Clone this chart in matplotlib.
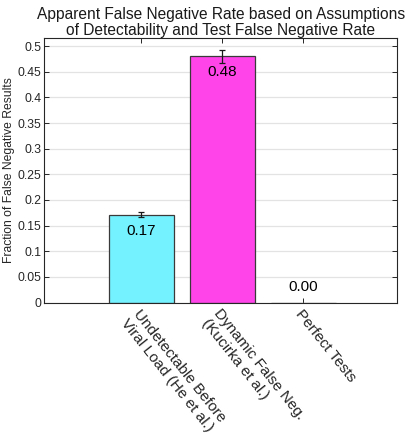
import matplotlib
matplotlib.use("Agg")
import matplotlib.pyplot as plt
import matplotlib.transforms as mtransforms
import numpy as np

# Data
categories = ["Undetectable Before\nViral Load (He et al.)",
              "Dynamic False Neg.\n(Kucirka et al.)",
              "Perfect Tests"]
values = [0.1715, 0.480, 0.0]
errors = [0.0055, 0.012, 0.0]
value_labels = ["0.17", "0.48", "0.00"]
bar_colors = ["#75F2FF", "#FF45EA", "#FFFFFF"]
yticks = [0, 0.05, 0.1, 0.15, 0.2, 0.25, 0.3, 0.35, 0.4, 0.45, 0.5]
ytick_labels = ["0", "0.05", "0.1", "0.15", "0.2", "0.25", "0.3", "0.35", "0.4", "0.45", "0.5"]

plt.rcParams['font.family'] = ['Liberation Sans', 'DejaVu Sans']

fig = plt.figure(figsize=(4.06, 4.40), dpi=100)
ax = fig.add_axes([44/406, 1 - 302.5/440, (397.5 - 44)/406, (302.5 - 38)/440])

x = np.arange(1, len(categories) + 1)
ax.set_axisbelow(True)
ax.yaxis.grid(True, color='#E3E3E3', linewidth=0.9)
ax.xaxis.grid(False)

ax.bar(x, values, width=0.8, color=bar_colors, edgecolor='#3A3A3A', linewidth=0.9, zorder=2)
ax.errorbar(x[:2], values[:2], yerr=errors[:2], fmt='none', ecolor='#1A1A1A',
            elinewidth=0.9, capsize=2.3, capthick=0.9, zorder=3)

for xi, v, lab in zip(x, values, value_labels):
    if v > 0.02:
        ax.annotate(lab, (xi, v), xytext=(0, -6.5), textcoords='offset points',
                    ha='center', va='top', fontsize=11, color='black', zorder=4)
    else:
        ax.annotate(lab, (xi, v), xytext=(0, 6), textcoords='offset points',
                    ha='center', va='bottom', fontsize=11, color='black', zorder=4)

ax.set_xlim(-0.2, 4.16)
ax.set_ylim(0, 0.516)
ax.set_yticks(yticks)
ax.set_yticklabels(ytick_labels, fontsize=8.7, color='#262626')
ax.set_xticks(x)
ax.set_xticklabels(categories, fontsize=11, color='#262626', rotation=-51.5,
                   ha='left', va='top', rotation_mode='anchor', linespacing=1.15)
label_shifts = [(-12, 0), (-1.5, 0), (-1.5, 0)]
for lbl, (dx, dy) in zip(ax.get_xticklabels(), label_shifts):
    off = mtransforms.ScaledTranslation(dx/100, (dy - 2)/100, fig.dpi_scale_trans)
    lbl.set_transform(lbl.get_transform() + off)

ax.tick_params(axis='both', direction='in', length=3.5, width=0.7, colors='#262626',
               top=True, right=True)
ax.tick_params(axis='y', pad=2)
ax.tick_params(axis='x', pad=3)
for s in ax.spines.values():
    s.set_color('#262626')
    s.set_linewidth(0.8)

ax.set_ylabel("Fraction of False Negative Results", fontsize=8.7, color='#262626', labelpad=2)
ax.set_title("Apparent False Negative Rate based on Assumptions\nof Detectability and Test False Negative Rate",
             fontsize=11.2, color='#1A1A1A', pad=2, linespacing=1.08)

fig.savefig("out.png", dpi=100)
